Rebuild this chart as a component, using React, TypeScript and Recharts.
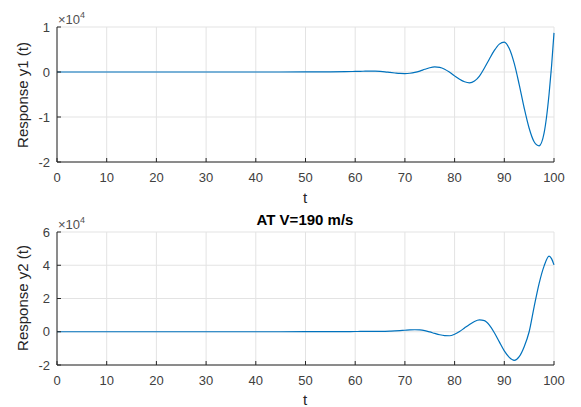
import { CartesianGrid, Line, LineChart, XAxis, YAxis } from "recharts";

const tValues = [
  0, 10, 20, 30, 40, 50, 55, 58, 60, 61, 62, 63, 64, 65, 66, 67, 68, 69, 70, 71, 72, 73, 74, 75, 76, 77, 78,
  79, 80, 81, 82, 83, 84, 85, 86, 87, 88, 89, 90, 91, 92, 93, 94, 95, 96, 97, 98, 99, 99.5, 100,
];

// response values, in units of 1e4
const y1Values = [
  0, 0, 0, 0, 0, 0.002, 0.004, 0.008, 0.012, 0.015, 0.018, 0.02, 0.018, 0.012, 0.003, -0.01, -0.022, -0.032,
  -0.035, -0.028, -0.01, 0.02, 0.06, 0.095, 0.112, 0.103, 0.063, -0.005, -0.086, -0.16, -0.217, -0.24, -0.2,
  -0.09, 0.09, 0.29, 0.48, 0.62, 0.665, 0.52, 0.19, -0.28, -0.8, -1.25, -1.55, -1.64, -1.36, -0.5, 0.12, 0.87,
];

const y2Values = [
  0, 0, 0, 0, 0, 0.002, 0.005, 0.01, 0.015, 0.018, 0.02, 0.022, 0.022, 0.022, 0.025, 0.035, 0.05, 0.07, 0.09,
  0.11, 0.12, 0.11, 0.066, -0.01, -0.1, -0.18, -0.23, -0.24, -0.15, 0.01, 0.23, 0.44, 0.62, 0.71, 0.67, 0.4,
  -0.06, -0.61, -1.15, -1.54, -1.72, -1.5, -0.9, 0.0, 1.5, 2.9, 3.95, 4.55, 4.4, 4.02,
];

const xTicks = [0, 10, 20, 30, 40, 50, 60, 70, 80, 90, 100];
const y1Ticks = [-2, -1, 0, 1];
const y2Ticks = [-2, 0, 2, 4, 6];

const data1 = tValues.map((t, i) => ({ t, y: y1Values[i] }));
const data2 = tValues.map((t, i) => ({ t, y: y2Values[i] }));

const FONT = "'Liberation Sans', Arial, Helvetica, sans-serif";
const AXIS = "#262626";
const tickStyle = { fontSize: 13, fill: "#404040", fontFamily: FONT };

const Panel = ({
  data,
  ticks,
  top,
  height,
  marginTop,
  xHeight,
}: {
  data: { t: number; y: number }[];
  ticks: number[];
  top: number;
  height: number;
  marginTop: number;
  xHeight: number;
}) => {
  const domain = [ticks[0], ticks[ticks.length - 1]];
  return (
    <div style={{ position: "absolute", left: 0, top }}>
      <LineChart width={581} height={height} data={data} margin={{ top: marginTop, right: 27, bottom: 0, left: 0 }}>
        <CartesianGrid stroke="#e3e3e3" strokeWidth={1} />
        <XAxis
          dataKey="t"
          type="number"
          domain={[0, 100]}
          ticks={xTicks}
          height={xHeight}
          tickSize={-4}
          tickMargin={15}
          stroke={AXIS}
          tick={tickStyle}
        />
        <XAxis
          xAxisId="top"
          orientation="top"
          dataKey="t"
          type="number"
          domain={[0, 100]}
          ticks={xTicks}
          height={0}
          tickSize={-4}
          tick={false}
          stroke={AXIS}
        />
        <YAxis
          type="number"
          domain={domain}
          ticks={ticks}
          width={57}
          tickSize={-4}
          tickMargin={11}
          stroke={AXIS}
          tick={tickStyle}
        />
        <YAxis
          yAxisId="r"
          orientation="right"
          type="number"
          domain={domain}
          ticks={ticks}
          width={0}
          tickSize={-4}
          tick={false}
          stroke={AXIS}
        />
        <Line
          type="monotone"
          dataKey="y"
          stroke="#0072BD"
          strokeWidth={1.2}
          dot={false}
          isAnimationActive={false}
        />
      </LineChart>
    </div>
  );
};

const textBase = { position: "absolute" as const, fontFamily: FONT, color: "#262626", whiteSpace: "nowrap" as const };

const Multiplier = ({ top }: { top: number }) => (
  <div style={{ ...textBase, left: 58, top, fontSize: 13, color: "#505050" }}>
    ×10<sup style={{ fontSize: 9, verticalAlign: "6px" }}>4</sup>
  </div>
);

const YLabel = ({ text, y }: { text: string; y: number }) => (
  <div
    style={{
      ...textBase,
      left: 22,
      top: y,
      fontSize: 15,
      transform: "translate(-50%, -50%) rotate(-90deg)",
    }}
  >
    {text}
  </div>
);

const XLabel = ({ y }: { y: number }) => (
  <div style={{ ...textBase, left: 305, top: y, fontSize: 15, transform: "translate(-50%, -50%)" }}>t</div>
);

export default function App() {
  return (
    <div style={{ position: "absolute", left: 0, top: 0, width: 581, height: 407, background: "#fff" }}>
      <Panel data={data1} ticks={y1Ticks} top={0} height={200} marginTop={27} xHeight={38} />
      <Panel data={data2} ticks={y2Ticks} top={200} height={200} marginTop={32} xHeight={35} />
      <Multiplier top={10} />
      <Multiplier top={215} />
      <YLabel text="Response y1 (t)" y={95} />
      <YLabel text="Response y2 (t)" y={298} />
      <XLabel y={197} />
      <XLabel y={399} />
      <div
        style={{
          ...textBase,
          left: 305,
          top: 219,
          fontSize: 15,
          fontWeight: "bold",
          transform: "translate(-50%, -50%)",
          color: "#000",
        }}
      >
        AT V=190 m/s
      </div>
    </div>
  );
}
